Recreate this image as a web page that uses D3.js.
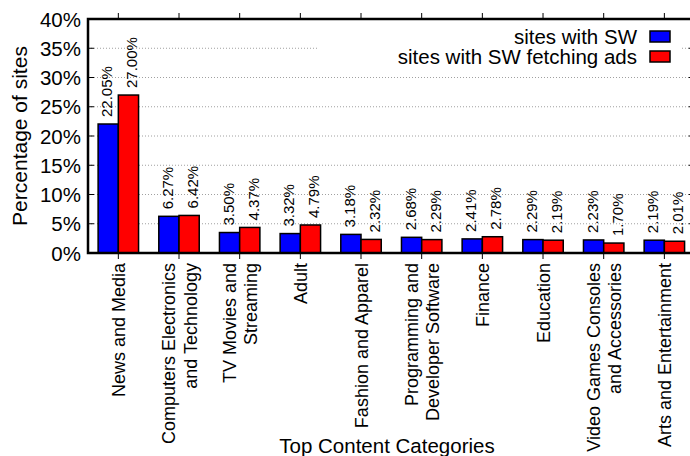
<!DOCTYPE html>
<html>
<head>
<meta charset="utf-8">
<script src="https://cdn.jsdelivr.net/npm/d3@7"></script>
<style>
html,body{margin:0;padding:0;background:#fff;}
svg{display:block;font-family:"Liberation Sans",Arial,Helvetica,sans-serif;}
</style>
</head>
<body>
<svg id="chart" width="690" height="456"></svg>
<script>
const categories = [
  "News and Media",
  "Computers Electronics\nand Technology",
  "TV Movies and\nStreaming",
  "Adult",
  "Fashion and Apparel",
  "Programming and\nDeveloper Software",
  "Finance",
  "Education",
  "Video Games Consoles\nand Accessories",
  "Arts and Entertainment"
];
const sitesWithSW = [22.05, 6.27, 3.50, 3.32, 3.18, 2.68, 2.41, 2.29, 2.23, 2.19];
const sitesWithSWAds = [27.00, 6.42, 4.37, 4.79, 2.32, 2.29, 2.78, 2.19, 1.70, 2.01];
const yTicks = [0, 5, 10, 15, 20, 25, 30, 35, 40];
const seriesNames = ["sites with SW", "sites with SW fetching ads"];
const seriesColors = ["#0000ff", "#ff0000"];

const svg = d3.select("#chart");
const L = 88, R = 694.7, T = 19, B = 253;

const x = d3.scaleBand().domain(categories).range([L, R]).padding(0);
const y = d3.scaleLinear().domain([0, 40]).range([B, T]);
const bw = x.bandwidth() / 3;
const cx = c => x(c) + x.bandwidth() / 2;

// grid
svg.append("g").selectAll("line").data(yTicks.filter(v => v > 0 && v < 40)).join("line")
  .attr("x1", L).attr("x2", R)
  .attr("y1", d => y(d)).attr("y2", d => y(d))
  .attr("stroke", "#a0a0a0").attr("stroke-width", 1).attr("stroke-dasharray", "1,2");

// legend background (masks grid)
svg.append("rect").attr("x", 317).attr("y", 22).attr("width", 365).attr("height", 46).attr("fill", "#fff");

// bars
const series = [sitesWithSW, sitesWithSWAds];
series.forEach((vals, si) => {
  svg.append("g").selectAll("rect").data(categories).join("rect")
    .attr("x", (c) => cx(c) - bw + si * bw)
    .attr("width", bw)
    .attr("y", (c, i) => y(vals[i]))
    .attr("height", (c, i) => B - y(vals[i]))
    .attr("fill", seriesColors[si])
    .attr("stroke", "#000").attr("stroke-width", 1.5);
  // value labels
  svg.append("g").selectAll("text").data(categories).join("text")
    .attr("transform", (c, i) => `translate(${cx(c) + (si === 0 ? -bw / 2 + 4 : bw / 2 + 9)},${y(vals[i]) - 7}) rotate(-90)`)
    .attr("text-anchor", "start")
    .attr("font-size", 15)
    .attr("fill", "#000")
    .text((c, i) => vals[i].toFixed(2) + "%");
});

// border
svg.append("rect").attr("x", L).attr("y", T).attr("width", R - L).attr("height", B - T)
  .attr("fill", "none").attr("stroke", "#000").attr("stroke-width", 2.5);

// y ticks (inward, both sides)
const yt = svg.append("g");
yTicks.forEach(v => {
  yt.append("line").attr("x1", L).attr("x2", L + 6).attr("y1", y(v)).attr("y2", y(v)).attr("stroke", "#000").attr("stroke-width", 1);
  yt.append("line").attr("x1", R - 6).attr("x2", R).attr("y1", y(v)).attr("y2", y(v)).attr("stroke", "#000").attr("stroke-width", 1);
  yt.append("text").attr("x", 81).attr("y", y(v) + 7.5).attr("text-anchor", "end")
    .attr("font-size", 20.5).text(v + "%");
});

// x ticks (outward, top & bottom)
const xt = svg.append("g");
categories.forEach(c => {
  xt.append("line").attr("x1", cx(c)).attr("x2", cx(c)).attr("y1", B).attr("y2", B + 6).attr("stroke", "#000").attr("stroke-width", 1);
  xt.append("line").attr("x1", cx(c)).attr("x2", cx(c)).attr("y1", T).attr("y2", T - 6).attr("stroke", "#000").attr("stroke-width", 1);
  const lines = c.split("\n");
  lines.forEach((ln, i) => {
    const off = 7 + (i - (lines.length - 1) / 2) * 21.5;
    xt.append("text")
      .attr("transform", `translate(${cx(c) + off},263) rotate(-90)`)
      .attr("text-anchor", "end").attr("font-size", 18).text(ln);
  });
});

// axis titles
svg.append("text").attr("transform", `translate(27,136) rotate(-90)`).attr("text-anchor", "middle")
  .attr("font-size", 21).text("Percentage of sites");
svg.append("text").attr("x", 387).attr("y", 453).attr("text-anchor", "middle")
  .attr("font-size", 20.5).text("Top Content Categories");

// legend
const lg = svg.append("g");
seriesNames.forEach((n, i) => {
  const yc = 36.5 + i * 20;
  lg.append("text").attr("x", 637).attr("y", yc + 7.5).attr("text-anchor", "end").attr("font-size", 20.5).text(n);
  lg.append("rect").attr("x", 650).attr("y", yc - 5.5).attr("width", 20).attr("height", 11)
    .attr("fill", seriesColors[i]).attr("stroke", "#000").attr("stroke-width", 1.5);
});
</script>
</body>
</html>
